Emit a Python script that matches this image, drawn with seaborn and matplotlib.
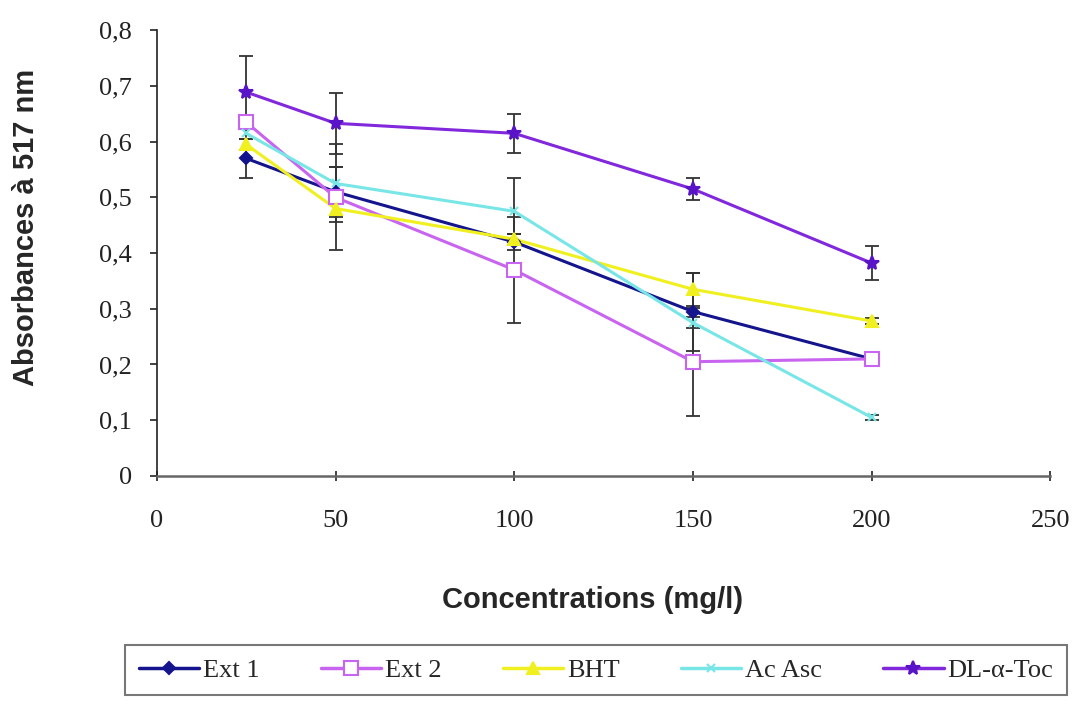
import numpy as np
import pandas as pd
import matplotlib
matplotlib.use("Agg")
import matplotlib.pyplot as plt
import seaborn as sns

conc = [25, 50, 100, 150, 200]
ext1 = [0.570, 0.510, 0.420, 0.295, 0.210]
ext2 = [0.635, 0.500, 0.370, 0.205, 0.210]
bht = [0.595, 0.480, 0.425, 0.335, 0.278]
acasc = [0.615, 0.525, 0.475, 0.275, 0.105]
toc = [0.689, 0.633, 0.615, 0.515, 0.382]

ext1_err = [0.035, 0.045, 0.015, 0.070, 0.005]
ext2_err = [0.010, 0.095, 0.095, 0.097, 0.005]
bht_err = [0.010, 0.025, 0.010, 0.030, 0.005]
acasc_err = [0.010, 0.030, 0.060, 0.010, 0.005]
toc_err = [0.065, 0.055, 0.035, 0.020, 0.030]

names = ["Ext 1", "Ext 2", "BHT", "Ac Asc", "DL-α-Toc"]
series = [ext1, ext2, bht, acasc, toc]
errors = [ext1_err, ext2_err, bht_err, acasc_err, toc_err]

colors = ["#14148c", "#c864f0", "#f0f020", "#78e6e6", "#8228dc"]
markers = ["D", "s", "^", "x", "*"]
msizes = [6, 10, 8, 6, 10]
mfaces = ["#14148c", "white", "#f0f020", "#78e6e6", "#5a14c8"]
medges = ["#14148c", "#c864f0", "#f0f020", "#78e6e6", "#5a14c8"]

df = pd.DataFrame({
    "conc": np.tile(conc, len(names)),
    "value": np.concatenate(series),
    "err": np.concatenate(errors),
    "serie": np.repeat(names, len(conc)),
})

sns.set_theme(style="white")
plt.rcParams["font.family"] = ["Liberation Serif", "DejaVu Serif"]

fig = plt.figure(figsize=(10.74, 7.04), dpi=100)
ax = fig.add_axes([0.146, 0.324, 0.832, 0.633])

for name in names:
    d = df[df["serie"] == name]
    ax.errorbar(d["conc"], d["value"], yerr=d["err"], fmt="none",
                ecolor="#333333", elinewidth=1.3, capsize=5, capthick=1.3, zorder=1)

pal = dict(zip(names, colors))
sns.lineplot(data=df, x="conc", y="value", hue="serie", palette=pal,
             linewidth=2.2, legend=False, ax=ax, zorder=2)
for i, name in enumerate(names):
    d = df[df["serie"] == name]
    ax.plot(d["conc"], d["value"], linestyle="none", marker=markers[i],
            markersize=msizes[i], markerfacecolor=mfaces[i],
            markeredgecolor=medges[i], markeredgewidth=1.5, zorder=3)

ax.set_xlim(0, 250)
ax.set_ylim(0, 0.8)
ax.set_xticks([0, 50, 100, 150, 200, 250])
yt = np.arange(0, 0.81, 0.1)
ax.set_yticks(yt)
ax.set_yticklabels(["0" if v == 0 else f"{v:.1f}".replace(".", ",") for v in yt])
ax.tick_params(axis="both", labelsize=19, width=1.2, bottom=True, left=True,
               colors="#222222")
ax.tick_params(axis="y", direction="out", length=5, pad=13)
ax.tick_params(axis="x", direction="inout", length=7, pad=21)
for s in ["top", "right"]:
    ax.spines[s].set_visible(False)
ax.spines["left"].set_color("#222222")
ax.spines["left"].set_linewidth(1.2)
ax.spines["bottom"].set_color("#666666")
ax.spines["bottom"].set_linewidth(1.8)

ax.set_xlabel("Concentrations (mg/l)", fontsize=21, fontweight="bold",
              family=["Liberation Sans", "DejaVu Sans"], va="center")
ax.set_ylabel("Absorbances à 517 nm", fontsize=21, fontweight="bold",
              family=["Liberation Sans", "DejaVu Sans"], va="center")
ax.xaxis.set_label_coords(0.5 + (592 - 603) / 893.6, (476 - 600) / 445.6)
ax.yaxis.set_label_coords((26 - 157) / 893.6, 0.5 + (253 - 227) / 445.6)

handles = []
for i, name in enumerate(names):
    h, = ax.plot([], [], color=colors[i], linewidth=2.5, marker=markers[i],
                 markersize=msizes[i], markerfacecolor=mfaces[i],
                 markeredgecolor=medges[i], markeredgewidth=1.5)
    handles.append(h)
leg = fig.legend(handles, names, loc="center", bbox_to_anchor=(0.555, 0.048),
                 ncol=5, fontsize=19, frameon=True, fancybox=False,
                 handlelength=2.3, handletextpad=0.15, columnspacing=2.3,
                 borderpad=0.5, edgecolor="#555555")
leg.get_frame().set_linewidth(1.5)

fig.savefig("out.png", dpi=100)
